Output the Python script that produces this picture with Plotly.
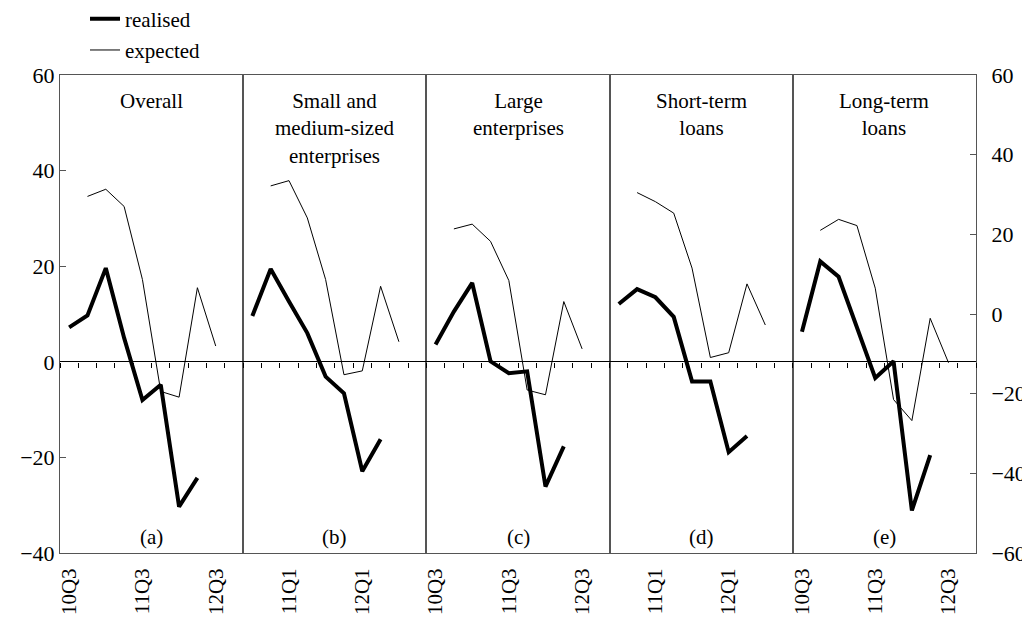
import plotly.graph_objects as go
from plotly.subplots import make_subplots

quarters = ["10Q3", "10Q4", "11Q1", "11Q2", "11Q3", "11Q4", "12Q1", "12Q2", "12Q3", "12Q4"]
realised_quarters = quarters[0:8]
expected_quarters = quarters[1:9]

panel_titles = ["Overall", "Small and<br>medium-sized<br>enterprises", "Large<br>enterprises",
                "Short-term<br>loans", "Long-term<br>loans"]
panel_letters = ["(a)", "(b)", "(c)", "(d)", "(e)"]
panel_ticks = [["10Q3", "11Q3", "12Q3"], ["11Q1", "12Q1"], ["10Q3", "11Q3", "12Q3"],
               ["11Q1", "12Q1"], ["10Q3", "11Q3", "12Q3"]]

realised_overall = [7.2, 9.7, 19.6, 5.0, -8.0, -4.8, -30.3, -24.3]
expected_overall = [34.6, 36.1, 32.5, 17.2, -6.2, -7.4, 15.5, 3.3]
realised_sme = [9.6, 19.4, 12.6, 6.0, -3.1, -6.6, -22.9, -16.2]
expected_sme = [36.8, 37.9, 30.1, 17.2, -2.7, -1.9, 15.8, 4.2]
realised_large = [3.6, 10.5, 16.5, 0.1, -2.4, -2.0, -26.1, -17.7]
expected_large = [27.8, 28.8, 25.2, 17.0, -5.9, -6.9, 12.6, 2.7]
realised_short = [12.1, 15.2, 13.5, 9.4, -4.1, -4.1, -18.9, -15.5]
expected_short = [35.4, 33.5, 31.1, 19.6, 0.9, 1.9, 16.3, 7.7]
realised_long = [6.3, 21.0, 17.8, 7.2, -3.4, 0.1, -31.1, -19.5]
expected_long = [27.5, 29.8, 28.5, 15.4, -7.9, -12.3, 9.1, -0.2]

realised = [realised_overall, realised_sme, realised_large, realised_short, realised_long]
expected = [expected_overall, expected_sme, expected_large, expected_short, expected_long]

FONT = "Liberation Serif, Times New Roman, serif"
FRAME = "#555555"

fig = make_subplots(rows=1, cols=5, shared_yaxes=True, horizontal_spacing=0)

for i in range(5):
    col = i + 1
    fig.add_trace(go.Scatter(x=realised_quarters, y=realised[i], mode="lines", name="realised",
                             legendgroup="realised", showlegend=(i == 0),
                             line=dict(color="black", width=4)), row=1, col=col)
    fig.add_trace(go.Scatter(x=expected_quarters, y=expected[i], mode="lines", name="expected",
                             legendgroup="expected", showlegend=(i == 0),
                             line=dict(color="black", width=1)), row=1, col=col)
    fig.update_xaxes(type="category", categoryarray=quarters, range=[-0.5, 9.5],
                     tickvals=panel_ticks[i], ticktext=panel_ticks[i], tickangle=-90,
                     ticks="", ticklabelstandoff=6, showline=True, mirror=True,
                     tickfont=dict(size=21), linecolor=FRAME, linewidth=1, showgrid=False,
                     zeroline=False, automargin=False, row=1, col=col)
    fig.update_yaxes(range=[-40, 60], dtick=20, showline=True, mirror=True, linecolor=FRAME,
                     linewidth=1, showgrid=False, zeroline=True, zerolinecolor="black",
                     zerolinewidth=1, automargin=False, row=1, col=col)
    xref = "x domain" if i == 0 else f"x{col} domain"
    fig.add_annotation(x=0.5, xref=xref, y=0.975, yref="paper",
                       text=panel_titles[i], showarrow=False, yanchor="top",
                       font=dict(size=21, family=FONT, color="black"))
    fig.add_annotation(x=0.5, xref=xref, y=0.033, yref="paper",
                       text=panel_letters[i], showarrow=False, yanchor="middle",
                       font=dict(size=21, family=FONT, color="black"))

fig.update_yaxes(ticks="inside", ticklen=6, tickcolor=FRAME, ticklabelstandoff=0, row=1, col=1)
for c in range(2, 6):
    fig.update_yaxes(showticklabels=False, ticks="", row=1, col=c)

# ticks along the zero line at every quarter boundary
fig.add_trace(go.Scatter(x=[], y=[], xaxis="x6", yaxis="y", showlegend=False, hoverinfo="skip"))
# right-hand scale
fig.add_trace(go.Scatter(x=[], y=[], xaxis="x5", yaxis="y6", showlegend=False, hoverinfo="skip"))

fig.update_layout(
    xaxis6=dict(domain=[0, 1], anchor="free", position=0.4, range=[-0.5, 49.5], tick0=-0.5, dtick=1,
                ticks="outside", ticklen=5, tickcolor="black", showticklabels=False, showline=False,
                showgrid=False, zeroline=False, automargin=False),
    yaxis6=dict(overlaying="y5", anchor="x5", side="right", range=[-60, 60], dtick=20,
                ticks="inside", ticklen=6, tickcolor=FRAME, ticklabelstandoff=10, showgrid=False,
                zeroline=False, showline=True, linecolor=FRAME, automargin=False),
    width=1022, height=612,
    margin=dict(l=52, r=54, t=67, b=67, autoexpand=False),
    paper_bgcolor="white", plot_bgcolor="rgba(0,0,0,0)",
    font=dict(family=FONT, size=22, color="black"),
    showlegend=True,
    legend=dict(x=0.0273, y=1.16, xanchor="left", yanchor="top", bgcolor="rgba(0,0,0,0)",
                traceorder="grouped", tracegroupgap=1, font=dict(size=21, family=FONT),
                itemwidth=30),
    shapes=[dict(type="rect", xref="paper", yref="paper", x0=(1027 - 60) / 916, x1=1.2, y0=-0.2,
                 y1=1.2, fillcolor="#ebebeb", line=dict(width=0), layer="below")],
)

fig.write_html("out.html")
